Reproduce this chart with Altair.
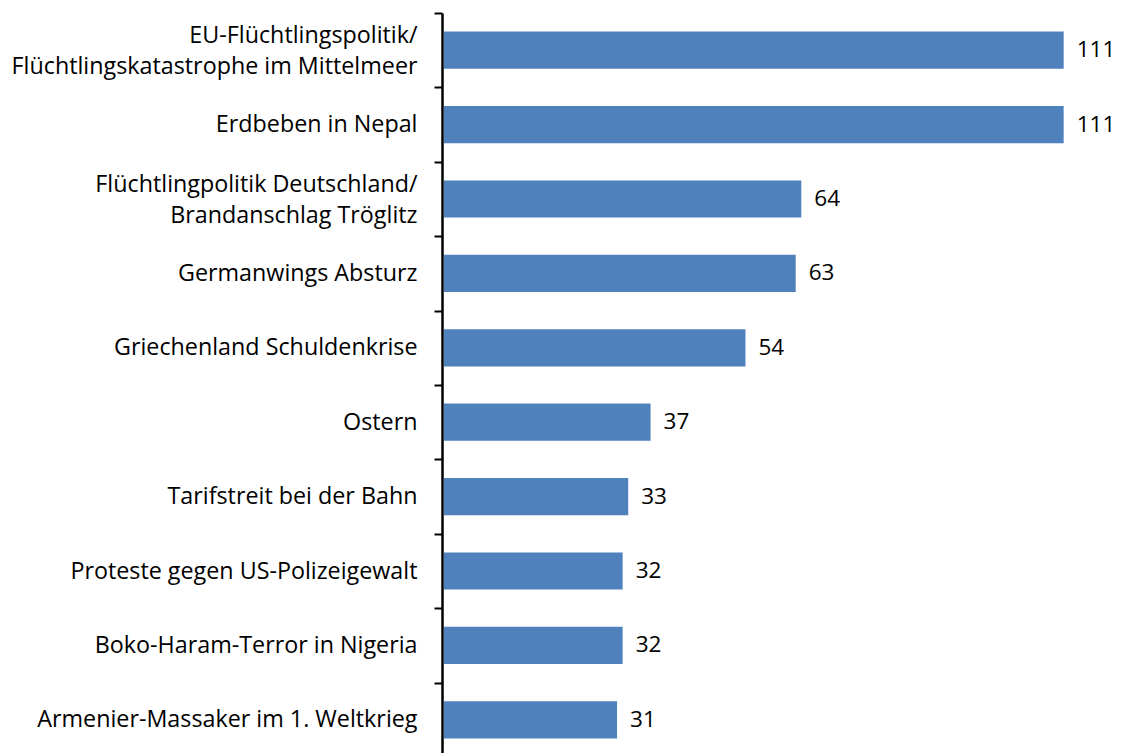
import altair as alt
import pandas as pd

categories = [
    "EU-Flüchtlingspolitik/|Flüchtlingskatastrophe im Mittelmeer",
    "Erdbeben in Nepal",
    "Flüchtlingpolitik Deutschland/|Brandanschlag Tröglitz",
    "Germanwings Absturz",
    "Griechenland Schuldenkrise",
    "Ostern",
    "Tarifstreit bei der Bahn",
    "Proteste gegen US-Polizeigewalt",
    "Boko-Haram-Terror in Nigeria",
    "Armenier-Massaker im 1. Weltkrieg",
]
values = [111, 111, 64, 63, 54, 37, 33, 32, 32, 31]

df = pd.DataFrame({"thema": categories, "wert": values})

FONT = "Open Sans"
SIZE = 23.3
HALF_STEP = 37.2

y_enc = alt.Y(
    "thema:N",
    sort=None,
    scale=alt.Scale(paddingInner=0.5, paddingOuter=0.25),
    axis=alt.Axis(
        title=None,
        labelExpr="split(datum.label, '|')",
        labelFont=FONT,
        labelFontSize=SIZE,
        labelColor="black",
        labelLineHeight=31,
        labelPadding=17,
        labelLimit=0,
        labelOffset={
            "condition": {"test": "indexof(datum.label, '|') >= 0", "value": HALF_STEP - 14.5},
            "value": HALF_STEP,
        },
        tickOffset=-HALF_STEP,
        tickSize=8,
        tickWidth=2,
        tickColor="black",
        domainColor="black",
        domainWidth=2.5,
        offset=2,
        grid=False,
    ),
)

x_enc = alt.X("wert:Q", scale=alt.Scale(domain=[0, 115], nice=False), axis=None)

bars = alt.Chart(df).mark_bar(color="#4F81BD").encode(y=y_enc, x=x_enc)
text = alt.Chart(df).mark_text(
    align="left", baseline="middle", dx=13, font=FONT, fontSize=22.5, color="black"
).encode(y=alt.Y("thema:N", sort=None), x="wert:Q", text="wert:Q")

chart = (
    alt.layer(bars, text)
    .properties(
        width=642,
        height=744,
        autosize=alt.AutoSizeParams(type="none"),
        padding={"left": 436, "top": 5, "right": 28, "bottom": 0},
    )
    .configure_view(stroke=None)
)

chart.save("out.html", embed_options={"renderer": "svg", "actions": False})
